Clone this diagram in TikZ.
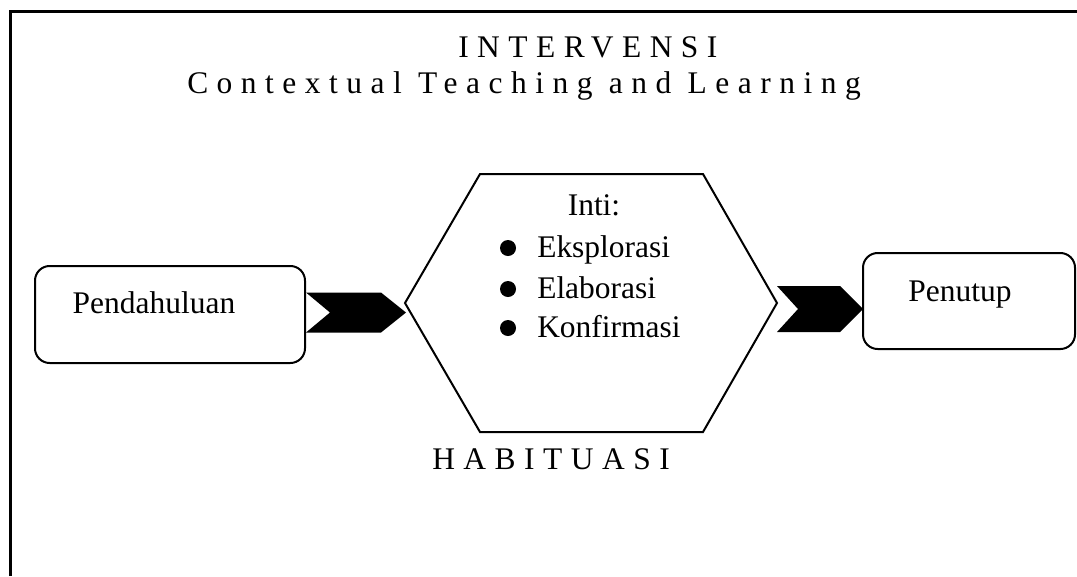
\documentclass[tikz,border=0pt]{standalone}
\usepackage{fontspec}
\setmainfont{Liberation Serif}
\newfontfamily\spaced[LetterSpace=27]{Liberation Serif}
\usepackage{tikz}
\usetikzlibrary{calc,positioning}

\begin{document}
\begin{tikzpicture}[x=0.75pt,y=-0.75pt]
	\tikzstyle{every node} = [inner sep=0, font=\fontsize{23.6}{28}\selectfont]
	\tikzstyle{box} = [draw = black, line width=1.5pt, rounded corners=11pt]
	\tikzstyle{title} = [anchor=base west, font=\fontsize{23.6}{28}\spaced]
	\useasboundingbox (0,0) rectangle (1077,576);
	\path[draw, line width=2.25pt] (10,576) -- (10,11) -- (1077,11);
	
\node[title] (intv) at (458,57) {INTERVENSI};
\node[title] (ctl) at (187,93) {Contextual Teaching and Learning};
\node[title] (hab) at (432,469) {HABITUASI};

\node[box, minimum width=202.5pt, minimum height=72.75pt] (pend) at (170,314.5) {};
\node[anchor=base] (pendl) at (154,313) {Pendahuluan};
\node[box, minimum width=159pt, minimum height=72pt] (pen) at (969,301) {};
\node[anchor=base] (penl) at (960,301) {Penutup};

	% hexagon
\coordinate (hl) at (405,303);
\coordinate (htl) at (480,174);
\coordinate (htr) at (703,174);
\coordinate (hr) at (777,303);
\coordinate (hbr) at (703,432);
\coordinate (hbl) at (480,432);
	\path[draw, line width=1.5pt] (hl) -- (htl) -- (htr) -- (hr) -- (hbr) -- (hbl) -- cycle;
\node[anchor=base] (inti) at (594,215) {Inti:};
\foreach \y/\w in {257/Eksplorasi,298/Elaborasi,337/Konfirmasi}{
	\node[anchor=base west] (\w) at (537,\y) {\w};
	\path[fill] (508,\y-9) circle[radius=8];
}

	% chevrons
	\path[fill] (pend.east) ++(0,-22) -- ++(75,0) -- ++(25,20) -- ++(-25,20) -- ++(-75,0) -- ++(24,-20) -- cycle;
	\path[fill] (hr) ++(0,-17) -- ++(63,0) -- ++(23,23) -- ++(-23,23) -- ++(-63,0) -- ++(21,-23) -- cycle;
	\end{tikzpicture}
\end{document}
